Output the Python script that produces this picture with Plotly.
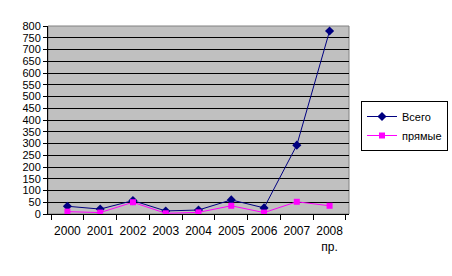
import plotly.graph_objects as go

categories = ["2000", "2001", "2002", "2003", "2004", "2005", "2006", "2007", "2008<br>пр."]
vsego = [33, 21, 57, 13, 17, 60, 26, 293, 779]
pryamye = [10, 6, 50, 3, 7, 35, 6, 52, 35]
y_ticks = list(range(0, 801, 50))

fig = go.Figure()
fig.add_trace(go.Scatter(
    x=categories, y=vsego, name="Всего", mode="lines+markers",
    line=dict(color="#000080", width=1),
    marker=dict(symbol="diamond", size=7, color="#000080"),
))
fig.add_trace(go.Scatter(
    x=categories, y=pryamye, name="прямые", mode="lines+markers",
    line=dict(color="#FF00FF", width=1),
    marker=dict(symbol="square", size=6, color="#FF00FF"),
))

fig.update_layout(
    width=452, height=276,
    margin=dict(l=48, r=103, t=26, b=62),
    paper_bgcolor="white",
    plot_bgcolor="#C0C0C0",
    font=dict(family="Liberation Sans, Arial", size=11, color="black"),
    showlegend=True,
    legend=dict(
        x=361/452, y=1 - 101/276, xref="container", yref="container",
        xanchor="left", yanchor="top",
        bordercolor="black", borderwidth=1, bgcolor="white",
        font=dict(size=11), tracegroupgap=0, itemwidth=30,
    ),
    shapes=[dict(
        type="rect", xref="x domain", yref="y domain", x0=0, x1=1, y0=0, y1=1,
        line=dict(color="#808080", width=1), layer="below",
    )],
)
fig.update_xaxes(
    type="category", tickson="boundaries", ticks="outside", ticklen=5,
    tickcolor="black", showline=True, linecolor="black", linewidth=1,
    showgrid=False, tickfont=dict(size=12), tickangle=0, fixedrange=True,
    ticklabelstandoff=6,
)
fig.update_yaxes(
    range=[0, 800], tickvals=y_ticks, ticks="outside", ticklen=4,
    tickcolor="black", showline=True, linecolor="black", linewidth=1,
    showgrid=True, gridcolor="black", gridwidth=1, zeroline=False,
    tickfont=dict(size=11), fixedrange=True,
)

fig.write_html("out.html")
